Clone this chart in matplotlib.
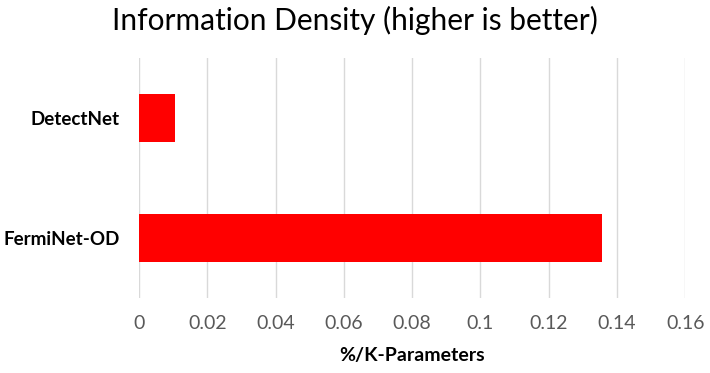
import matplotlib
matplotlib.use('Agg')
import matplotlib.pyplot as plt

# values
models = ['FermiNet-OD', 'DetectNet']
density = [0.1356, 0.0104]
xticks = [0, 0.02, 0.04, 0.06, 0.08, 0.1, 0.12, 0.14, 0.16]
xtick_labels = ['0', '0.02', '0.04', '0.06', '0.08', '0.1', '0.12', '0.14', '0.16']

plt.rcParams['font.family'] = ['Lato', 'DejaVu Sans']

fig = plt.figure(figsize=(7.1, 3.73), dpi=100)
ax = fig.add_axes([0.196, 0.201, 0.769, 0.644])

ax.barh(models, density, height=0.4, color='#ff0000', zorder=3)
ax.set_xlim(0, 0.16)
ax.set_ylim(-0.5, 1.5)
ax.set_xticks(xticks)
ax.set_xticklabels(xtick_labels)
ax.grid(axis='x', color='#d9d9d9', linewidth=1.0, zorder=0)
ax.tick_params(axis='x', length=0, pad=12, labelsize=14, labelcolor='#595959')
ax.tick_params(axis='y', length=0, pad=14, labelsize=13.5)
for lbl in ax.get_yticklabels():
    lbl.set_fontweight('bold')
for s in ax.spines.values():
    s.set_visible(False)

ax.set_xlabel('%/K-Parameters', fontsize=14, fontweight='bold', labelpad=11)
fig.suptitle('Information Density (higher is better)', fontsize=21.5, y=0.985)

fig.savefig('out.png', dpi=100)
